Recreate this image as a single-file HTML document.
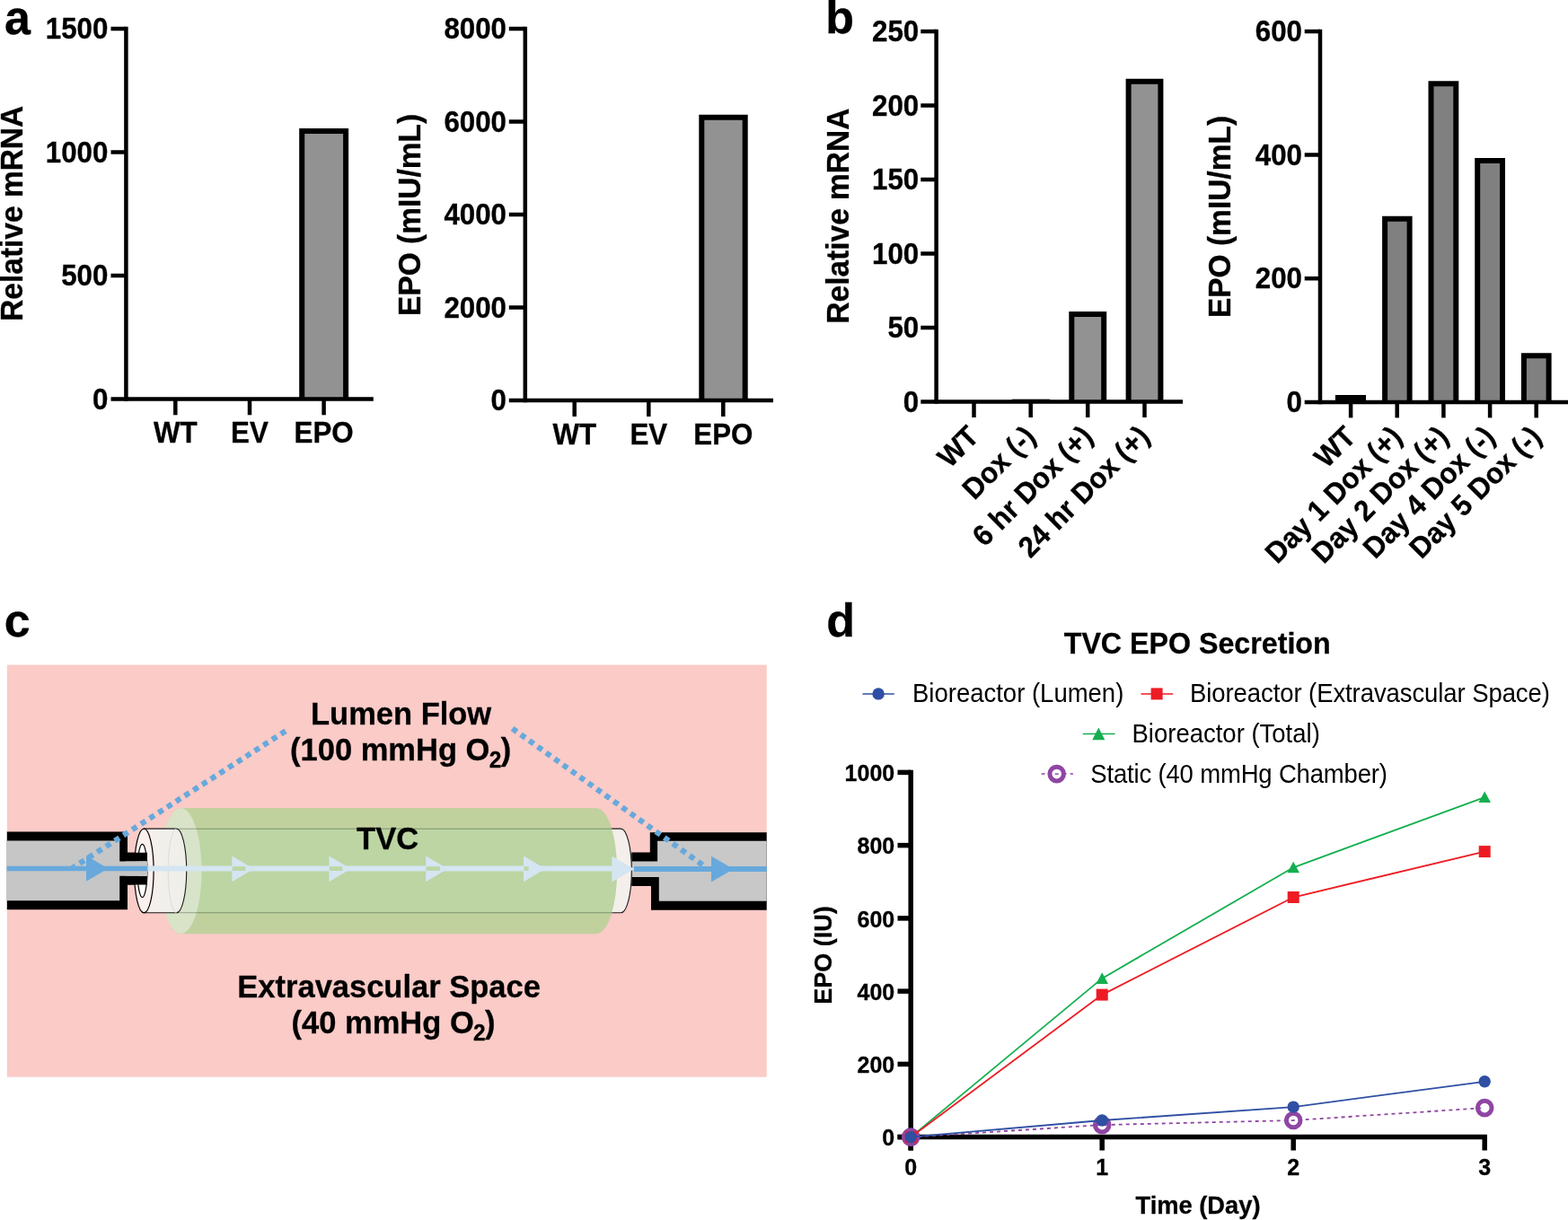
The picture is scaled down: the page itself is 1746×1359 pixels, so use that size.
<!DOCTYPE html>
<html lang="en"><head><meta charset="utf-8"><title>EPO secretion figure</title>
<style>
html,body{margin:0;padding:0;background:#fff;}
body{width:1746px;height:1359px;overflow:hidden;}
svg{display:block;font-family:"Liberation Sans", sans-serif;}
text{fill:#000;}
</style></head><body>
<svg width="1746" height="1359" viewBox="0 0 1746 1359">
<rect width="1746" height="1359" fill="#fff"/>

<text transform="translate(4.90,37.90) scale(1,1.04)" font-size="52" font-weight="bold" stroke="#000" stroke-width="0.3">a</text>
<text transform="translate(919.20,37.40) scale(1,1.0)" font-size="52" font-weight="bold" stroke="#000" stroke-width="0.3">b</text>
<text transform="translate(4.70,709.00) scale(1,1.0)" font-size="52" font-weight="bold" stroke="#000" stroke-width="0.3">c</text>
<text transform="translate(920.20,709.00) scale(1,1.0)" font-size="52" font-weight="bold" stroke="#000" stroke-width="0.3">d</text>
<g id="a1">
<path d="M336.2 444.6 V146.1 H385.1 V444.6" fill="#929292" stroke="#000" stroke-width="6"/>
<line x1="140.4" y1="29.8" x2="140.4" y2="446.9" stroke="#000" stroke-width="4.5"/>
<line x1="123.5" y1="444.6" x2="415.8" y2="444.6" stroke="#000" stroke-width="4.5"/>
<line x1="123.5" y1="32" x2="140.4" y2="32" stroke="#000" stroke-width="4.5"/>
<text transform="translate(120.40,43.21) scale(1,1.04)" font-size="31.3" font-weight="bold" stroke="#000" stroke-width="0.3" text-anchor="end">1500</text>
<line x1="123.5" y1="169.5" x2="140.4" y2="169.5" stroke="#000" stroke-width="4.5"/>
<text transform="translate(120.40,180.71) scale(1,1.04)" font-size="31.3" font-weight="bold" stroke="#000" stroke-width="0.3" text-anchor="end">1000</text>
<line x1="123.5" y1="307" x2="140.4" y2="307" stroke="#000" stroke-width="4.5"/>
<text transform="translate(120.40,318.21) scale(1,1.04)" font-size="31.3" font-weight="bold" stroke="#000" stroke-width="0.3" text-anchor="end">500</text>
<text transform="translate(120.40,455.81) scale(1,1.04)" font-size="31.3" font-weight="bold" stroke="#000" stroke-width="0.3" text-anchor="end">0</text>
<line x1="195.3" y1="444.6" x2="195.3" y2="462.3" stroke="#000" stroke-width="4.5"/>
<text transform="translate(195.30,493.20) scale(1,1.04)" font-size="31.3" font-weight="bold" stroke="#000" stroke-width="0.3" text-anchor="middle">WT</text>
<line x1="278" y1="444.6" x2="278" y2="462.3" stroke="#000" stroke-width="4.5"/>
<text transform="translate(278.00,493.20) scale(1,1.04)" font-size="31.3" font-weight="bold" stroke="#000" stroke-width="0.3" text-anchor="middle">EV</text>
<line x1="360.6" y1="444.6" x2="360.6" y2="462.3" stroke="#000" stroke-width="4.5"/>
<text transform="translate(360.60,493.20) scale(1,1.04)" font-size="31.3" font-weight="bold" stroke="#000" stroke-width="0.3" text-anchor="middle">EPO</text>
<text transform="translate(25.40,237.80) rotate(-90) scale(1,1.04)" font-size="33.5" font-weight="bold" stroke="#000" stroke-width="0.3" text-anchor="middle">Relative mRNA</text>
</g>
<g id="a2">
<path d="M781.3 446 V130.8 H829.7 V446" fill="#929292" stroke="#000" stroke-width="6"/>
<line x1="584.8" y1="29.8" x2="584.8" y2="448.2" stroke="#000" stroke-width="4.5"/>
<line x1="566.8" y1="446" x2="861" y2="446" stroke="#000" stroke-width="4.5"/>
<line x1="566.8" y1="32" x2="584.8" y2="32" stroke="#000" stroke-width="4.5"/>
<text transform="translate(564.00,43.21) scale(1,1.04)" font-size="31.3" font-weight="bold" stroke="#000" stroke-width="0.3" text-anchor="end">8000</text>
<line x1="566.8" y1="135.5" x2="584.8" y2="135.5" stroke="#000" stroke-width="4.5"/>
<text transform="translate(564.00,146.71) scale(1,1.04)" font-size="31.3" font-weight="bold" stroke="#000" stroke-width="0.3" text-anchor="end">6000</text>
<line x1="566.8" y1="239" x2="584.8" y2="239" stroke="#000" stroke-width="4.5"/>
<text transform="translate(564.00,250.21) scale(1,1.04)" font-size="31.3" font-weight="bold" stroke="#000" stroke-width="0.3" text-anchor="end">4000</text>
<line x1="566.8" y1="342.5" x2="584.8" y2="342.5" stroke="#000" stroke-width="4.5"/>
<text transform="translate(564.00,353.71) scale(1,1.04)" font-size="31.3" font-weight="bold" stroke="#000" stroke-width="0.3" text-anchor="end">2000</text>
<text transform="translate(564.00,457.21) scale(1,1.04)" font-size="31.3" font-weight="bold" stroke="#000" stroke-width="0.3" text-anchor="end">0</text>
<line x1="639.7" y1="446" x2="639.7" y2="464" stroke="#000" stroke-width="4.5"/>
<text transform="translate(639.70,494.50) scale(1,1.04)" font-size="31.3" font-weight="bold" stroke="#000" stroke-width="0.3" text-anchor="middle">WT</text>
<line x1="722.3" y1="446" x2="722.3" y2="464" stroke="#000" stroke-width="4.5"/>
<text transform="translate(722.30,494.50) scale(1,1.04)" font-size="31.3" font-weight="bold" stroke="#000" stroke-width="0.3" text-anchor="middle">EV</text>
<line x1="805.3" y1="446" x2="805.3" y2="464" stroke="#000" stroke-width="4.5"/>
<text transform="translate(805.30,494.50) scale(1,1.04)" font-size="31.3" font-weight="bold" stroke="#000" stroke-width="0.3" text-anchor="middle">EPO</text>
<text transform="translate(468.20,239.40) rotate(-90) scale(1,1.04)" font-size="33.5" font-weight="bold" stroke="#000" stroke-width="0.3" text-anchor="middle">EPO (mIU/mL)</text>
</g>
<g id="b1">
<rect x="1126.8" y="444.7" width="42.4" height="2.8" fill="#000"/>
<path d="M1193.3 447.5 V350.0 H1229.2 V447.5" fill="#929292" stroke="#000" stroke-width="6"/>
<path d="M1256.6 447.5 V90.7 H1292.4 V447.5" fill="#929292" stroke="#000" stroke-width="6"/>
<line x1="1042.6" y1="32.8" x2="1042.6" y2="449.8" stroke="#000" stroke-width="4.5"/>
<line x1="1025.3" y1="447.5" x2="1317.1" y2="447.5" stroke="#000" stroke-width="4.5"/>
<line x1="1025.3" y1="35" x2="1042.6" y2="35" stroke="#000" stroke-width="4.5"/>
<text transform="translate(1023.20,46.21) scale(1,1.04)" font-size="31.3" font-weight="bold" stroke="#000" stroke-width="0.3" text-anchor="end">250</text>
<line x1="1025.3" y1="117.5" x2="1042.6" y2="117.5" stroke="#000" stroke-width="4.5"/>
<text transform="translate(1023.20,128.71) scale(1,1.04)" font-size="31.3" font-weight="bold" stroke="#000" stroke-width="0.3" text-anchor="end">200</text>
<line x1="1025.3" y1="200" x2="1042.6" y2="200" stroke="#000" stroke-width="4.5"/>
<text transform="translate(1023.20,211.21) scale(1,1.04)" font-size="31.3" font-weight="bold" stroke="#000" stroke-width="0.3" text-anchor="end">150</text>
<line x1="1025.3" y1="282.5" x2="1042.6" y2="282.5" stroke="#000" stroke-width="4.5"/>
<text transform="translate(1023.20,293.71) scale(1,1.04)" font-size="31.3" font-weight="bold" stroke="#000" stroke-width="0.3" text-anchor="end">100</text>
<line x1="1025.3" y1="365" x2="1042.6" y2="365" stroke="#000" stroke-width="4.5"/>
<text transform="translate(1023.20,376.21) scale(1,1.04)" font-size="31.3" font-weight="bold" stroke="#000" stroke-width="0.3" text-anchor="end">50</text>
<text transform="translate(1023.20,458.71) scale(1,1.04)" font-size="31.3" font-weight="bold" stroke="#000" stroke-width="0.3" text-anchor="end">0</text>
<line x1="1084.5" y1="447.5" x2="1084.5" y2="465" stroke="#000" stroke-width="4.5"/>
<text transform="translate(1091.80,488.00) rotate(-45) scale(1,1.04)" font-size="31.3" font-weight="bold" stroke="#000" stroke-width="0.3" text-anchor="end">WT</text>
<line x1="1147.7" y1="447.5" x2="1147.7" y2="465" stroke="#000" stroke-width="4.5"/>
<text transform="translate(1155.00,488.00) rotate(-45) scale(1,1.04)" font-size="31.3" font-weight="bold" stroke="#000" stroke-width="0.3" text-anchor="end">Dox (-)</text>
<line x1="1211.2" y1="447.5" x2="1211.2" y2="465" stroke="#000" stroke-width="4.5"/>
<text transform="translate(1218.50,488.00) rotate(-45) scale(1,1.04)" font-size="31.3" font-weight="bold" stroke="#000" stroke-width="0.3" text-anchor="end">6 hr Dox (+)</text>
<line x1="1274.5" y1="447.5" x2="1274.5" y2="465" stroke="#000" stroke-width="4.5"/>
<text transform="translate(1281.80,488.00) rotate(-45) scale(1,1.04)" font-size="31.3" font-weight="bold" stroke="#000" stroke-width="0.3" text-anchor="end">24 hr Dox (+)</text>
<text transform="translate(944.50,240.60) rotate(-90) scale(1,1.04)" font-size="33.5" font-weight="bold" stroke="#000" stroke-width="0.3" text-anchor="middle">Relative mRNA</text>
</g>
<g id="b2">
<path d="M1489.9 448 V443.0 H1518.0 V448" fill="#808080" stroke="#000" stroke-width="6"/>
<path d="M1542.1 448 V243.7 H1569.6 V448" fill="#808080" stroke="#000" stroke-width="6"/>
<path d="M1593.5 448 V93.2 H1621.3 V448" fill="#808080" stroke="#000" stroke-width="6"/>
<path d="M1645.2 448 V178.9 H1673.0 V448" fill="#808080" stroke="#000" stroke-width="6"/>
<path d="M1696.9 448 V396.3 H1724.6 V448" fill="#808080" stroke="#000" stroke-width="6"/>
<line x1="1470" y1="32.8" x2="1470" y2="450.2" stroke="#000" stroke-width="4.5"/>
<line x1="1452.7" y1="448" x2="1746" y2="448" stroke="#000" stroke-width="4.5"/>
<line x1="1452.7" y1="35" x2="1470" y2="35" stroke="#000" stroke-width="4.5"/>
<text transform="translate(1450.00,46.21) scale(1,1.04)" font-size="31.3" font-weight="bold" stroke="#000" stroke-width="0.3" text-anchor="end">600</text>
<line x1="1452.7" y1="172.5" x2="1470" y2="172.5" stroke="#000" stroke-width="4.5"/>
<text transform="translate(1450.00,183.71) scale(1,1.04)" font-size="31.3" font-weight="bold" stroke="#000" stroke-width="0.3" text-anchor="end">400</text>
<line x1="1452.7" y1="310.2" x2="1470" y2="310.2" stroke="#000" stroke-width="4.5"/>
<text transform="translate(1450.00,321.41) scale(1,1.04)" font-size="31.3" font-weight="bold" stroke="#000" stroke-width="0.3" text-anchor="end">200</text>
<text transform="translate(1450.00,459.21) scale(1,1.04)" font-size="31.3" font-weight="bold" stroke="#000" stroke-width="0.3" text-anchor="end">0</text>
<line x1="1504.1" y1="448" x2="1504.1" y2="465.4" stroke="#000" stroke-width="4.5"/>
<text transform="translate(1511.40,488.40) rotate(-45) scale(1,1.04)" font-size="31.3" font-weight="bold" stroke="#000" stroke-width="0.3" text-anchor="end">WT</text>
<line x1="1555.7" y1="448" x2="1555.7" y2="465.4" stroke="#000" stroke-width="4.5"/>
<text transform="translate(1563.00,488.40) rotate(-45) scale(1,1.04)" font-size="31.3" font-weight="bold" stroke="#000" stroke-width="0.3" text-anchor="end">Day 1 Dox (+)</text>
<line x1="1607.4" y1="448" x2="1607.4" y2="465.4" stroke="#000" stroke-width="4.5"/>
<text transform="translate(1614.70,488.40) rotate(-45) scale(1,1.04)" font-size="31.3" font-weight="bold" stroke="#000" stroke-width="0.3" text-anchor="end">Day 2 Dox (+)</text>
<line x1="1659.1" y1="448" x2="1659.1" y2="465.4" stroke="#000" stroke-width="4.5"/>
<text transform="translate(1666.40,488.40) rotate(-45) scale(1,1.04)" font-size="31.3" font-weight="bold" stroke="#000" stroke-width="0.3" text-anchor="end">Day 4 Dox (-)</text>
<line x1="1710.7" y1="448" x2="1710.7" y2="465.4" stroke="#000" stroke-width="4.5"/>
<text transform="translate(1718.00,488.40) rotate(-45) scale(1,1.04)" font-size="31.3" font-weight="bold" stroke="#000" stroke-width="0.3" text-anchor="end">Day 5 Dox (-)</text>
<text transform="translate(1369.80,241.50) rotate(-90) scale(1,1.04)" font-size="33.5" font-weight="bold" stroke="#000" stroke-width="0.3" text-anchor="middle">EPO (mIU/mL)</text>
</g>
<g id="c">
<rect x="7.8" y="740.6" width="845.9" height="459.1" fill="#FACBC7"/>
<path d="M7.8 926.5 H142 V949.8 H164 V985.5 H142 V1013.2 H7.8 Z" fill="#000"/>
<path d="M7.8 936.5 H133.2 V959.4 H164 V975.8 H133.2 V1003.2 H7.8 Z" fill="#C6C6C6"/>
<path d="M853.7 927.2 H723.8 V949.6 H703.3 V987 H725 V1013.7 H853.7 Z" fill="#000"/>
<path d="M853.7 936.8 H732.1 V959.6 H703.3 V977.1 H733.8 V1003.7 H853.7 Z" fill="#C8C8C8"/>
<defs><linearGradient id="wg" x1="0" x2="1" y1="0" y2="0"><stop offset="0" stop-color="#F9EFEC"/><stop offset="0.5" stop-color="#F1EFEB"/><stop offset="1" stop-color="#EEEFEA"/></linearGradient></defs>
<path d="M196.5 923.1 H691.4 A11.9 46.85 0 0 1 691.4 1016.8 H196.5 Z" fill="#F5EFEC" stroke="#1a1a1a" stroke-width="1.1"/>
<path d="M201.3 900.2 H663.9 A23.3 70 0 0 1 663.9 1040.2 H201.3 A23.3 70 0 0 1 201.3 900.2 Z" fill="#B4D299" fill-opacity="0.88"/>
<clipPath id="gc"><path d="M201.3 900.2 H663.9 A23.3 70 0 0 1 663.9 1040.2 H201.3 Z"/></clipPath>
<g clip-path="url(#gc)"><rect x="201.3" y="900.2" width="490" height="22.9" fill="#C9D0A0" fill-opacity="0.3"/><rect x="201.3" y="1016.8" width="490" height="23.4" fill="#C9D0A0" fill-opacity="0.3"/></g>
<ellipse cx="201.3" cy="970.2" rx="23.3" ry="70" fill="#E9EEE3" fill-opacity="0.6"/>
<line x1="197" y1="923.3" x2="683" y2="923.3" stroke="#6F8468" stroke-width="1" stroke-opacity="0.6"/>
<line x1="197" y1="1016.7" x2="683" y2="1016.7" stroke="#6F8468" stroke-width="1" stroke-opacity="0.6"/>
<path d="M160.3 923.1 H196.5 A11.2 46.85 0 0 1 196.5 1016.8 H160.3 Z" fill="url(#wg)" stroke="#1a1a1a" stroke-width="1.1"/>
<path d="M196.5 923.1 A9.3 46.85 0 0 0 196.5 1016.8" fill="none" stroke="#D6D6D2" stroke-width="0.8"/>
<ellipse cx="160.3" cy="970" rx="10.8" ry="46.85" fill="#FAF0EE" stroke="#000" stroke-width="1.2"/>
<ellipse cx="158.5" cy="970" rx="5.4" ry="29.6" fill="#fff" stroke="#000" stroke-width="1.2"/>
<path d="M140 949.8 H164 V959.4 H140 Z M140 975.8 H164 V985.5 H140 Z" fill="#000"/>
<rect x="140" y="959.4" width="24" height="16.4" fill="#C6C6C6"/>
<line x1="164" y1="967.6" x2="700" y2="967.6" stroke="#D5E5F2" stroke-width="6"/>
<path d="M258.3 953.5 L282.6 967.8 L258.3 982.2 Z" fill="#D5E5F2"/>
<rect x="258.7" y="965.2" width="14.6" height="4.8" fill="#BDD8A5"/>
<path d="M366.4 953.5 L390.7 967.8 L366.4 982.2 Z" fill="#D5E5F2"/>
<rect x="366.79999999999995" y="965.2" width="14.6" height="4.8" fill="#BDD8A5"/>
<path d="M474.2 953.5 L498.5 967.8 L474.2 982.2 Z" fill="#D5E5F2"/>
<rect x="474.59999999999997" y="965.2" width="15.2" height="4.8" fill="#BDD8A5"/>
<path d="M583 953.5 L607.3 967.8 L583 982.2 Z" fill="#D5E5F2"/>
<rect x="583.4" y="965.2" width="5.2" height="4.8" fill="#BDD8A5"/>
<path d="M681.4 953.8 L706.3 968 L681.4 982.5 Z" fill="#D5E5F2"/>
<line x1="7.8" y1="967.5" x2="164.5" y2="967.5" stroke="#67A9DC" stroke-width="5.6"/>
<path d="M96 953.1 L120.4 967.5 L96 981.8 Z" fill="#67A9DC"/>
<line x1="706" y1="967.9" x2="853.7" y2="967.9" stroke="#67A9DC" stroke-width="6"/>
<path d="M792 953.8 L816.9 968 L792 982.5 Z" fill="#67A9DC"/>
<line x1="318.0" y1="814.35" x2="80.0" y2="967.3" stroke="#67A9DC" stroke-width="6.2" stroke-dasharray="6.2 5.38"/>
<line x1="570.5" y1="811.5" x2="786.0" y2="966.1" stroke="#67A9DC" stroke-width="6.2" stroke-dasharray="6.2 5.37"/>
<text transform="translate(446.60,807.10) scale(1,1.04)" font-size="34.5" font-weight="bold" stroke="#000" stroke-width="0.3" text-anchor="middle">Lumen Flow</text>
<text transform="translate(446.10,847.00) scale(1,1.04)" font-size="34.5" font-weight="bold" stroke="#000" stroke-width="0.3" text-anchor="middle">(100 mmHg O<tspan font-size="24.5" dy="7.6" dx="-0.6">2</tspan><tspan dy="-7.6" dx="-0.8">)</tspan></text>
<text transform="translate(431.60,946.00) scale(1,1.04)" font-size="34.5" font-weight="bold" stroke="#000" stroke-width="0.3" text-anchor="middle">TVC</text>
<text transform="translate(433.10,1111.20) scale(1,1.04)" font-size="34.5" font-weight="bold" stroke="#000" stroke-width="0.3" text-anchor="middle">Extravascular Space</text>
<text transform="translate(438.00,1151.00) scale(1,1.04)" font-size="34.5" font-weight="bold" stroke="#000" stroke-width="0.3" text-anchor="middle">(40 mmHg O<tspan font-size="24.5" dy="7.6" dx="-0.6">2</tspan><tspan dy="-7.6" dx="-0.8">)</tspan></text>
</g>
<g id="d">
<text transform="translate(1333.20,728.00) scale(1,1.04)" font-size="32.2" font-weight="bold" stroke="#000" stroke-width="0.3" text-anchor="middle">TVC EPO Secretion</text>
<line x1="960.5" y1="772.9" x2="995.8" y2="772.9" stroke="#2E4FA3" stroke-width="1.5"/><circle cx="978.1" cy="772.9" r="6.7" fill="#2E4FA3"/>
<text transform="translate(1016.00,782.20) scale(1,1.04)" font-size="27.5">Bioreactor (Lumen)</text>
<line x1="1270.5" y1="772.9" x2="1306.2" y2="772.9" stroke="#ED1C24" stroke-width="1.5"/><rect x="1281.6" y="766.4" width="13" height="13" fill="#ED1C24"/>
<text transform="translate(1325.00,782.20) scale(1,1.04)" font-size="27.5" letter-spacing="-0.08">Bioreactor (Extravascular Space)</text>
<line x1="1205.7" y1="817.5" x2="1241.5" y2="817.5" stroke="#13AF4F" stroke-width="1.5"/><path d="M1223.3 810.5 L1230.3 824.3 L1216.3 824.3 Z" fill="#13AF4F"/>
<text transform="translate(1260.50,826.80) scale(1,1.04)" font-size="27.5">Bioreactor (Total)</text>
<line x1="1159.6" y1="862.1" x2="1194.9" y2="862.1" stroke="#8F46A3" stroke-width="1.5" stroke-dasharray="4 4"/><circle cx="1176.7" cy="862.1" r="7.8" fill="#fff" stroke="#8F46A3" stroke-width="5"/>
<line x1="1174.7" y1="862.1" x2="1178.7" y2="862.1" stroke="#8F46A3" stroke-width="1.5"/>
<text transform="translate(1214.30,871.70) scale(1,1.04)" font-size="27.5" letter-spacing="-0.17">Static (40 mmHg Chamber)</text>
<line x1="1014.2" y1="857.65" x2="1014.2" y2="1281.5" stroke="#000" stroke-width="5.5"/>
<line x1="999.5" y1="1266.6" x2="1655.95" y2="1266.6" stroke="#000" stroke-width="5.5"/>
<line x1="999.5" y1="860.4" x2="1014.2" y2="860.4" stroke="#000" stroke-width="5.5"/>
<text transform="translate(996.20,870.00) scale(1,1.04)" font-size="25" font-weight="bold" stroke="#000" stroke-width="0.3" text-anchor="end">1000</text>
<line x1="999.5" y1="941.65" x2="1014.2" y2="941.65" stroke="#000" stroke-width="5.5"/>
<text transform="translate(996.20,951.25) scale(1,1.04)" font-size="25" font-weight="bold" stroke="#000" stroke-width="0.3" text-anchor="end">800</text>
<line x1="999.5" y1="1022.9" x2="1014.2" y2="1022.9" stroke="#000" stroke-width="5.5"/>
<text transform="translate(996.20,1032.50) scale(1,1.04)" font-size="25" font-weight="bold" stroke="#000" stroke-width="0.3" text-anchor="end">600</text>
<line x1="999.5" y1="1104.15" x2="1014.2" y2="1104.15" stroke="#000" stroke-width="5.5"/>
<text transform="translate(996.20,1113.75) scale(1,1.04)" font-size="25" font-weight="bold" stroke="#000" stroke-width="0.3" text-anchor="end">400</text>
<line x1="999.5" y1="1185.4" x2="1014.2" y2="1185.4" stroke="#000" stroke-width="5.5"/>
<text transform="translate(996.20,1195.00) scale(1,1.04)" font-size="25" font-weight="bold" stroke="#000" stroke-width="0.3" text-anchor="end">200</text>
<line x1="999.5" y1="1266.6" x2="1014.2" y2="1266.6" stroke="#000" stroke-width="5.5"/>
<text transform="translate(996.20,1276.20) scale(1,1.04)" font-size="25" font-weight="bold" stroke="#000" stroke-width="0.3" text-anchor="end">0</text>
<line x1="1014.2" y1="1266.6" x2="1014.2" y2="1281.5" stroke="#000" stroke-width="5.5"/>
<text transform="translate(1014.20,1309.20) scale(1,1.04)" font-size="25" font-weight="bold" stroke="#000" stroke-width="0.3" text-anchor="middle">0</text>
<line x1="1227.2" y1="1266.6" x2="1227.2" y2="1281.5" stroke="#000" stroke-width="5.5"/>
<text transform="translate(1227.20,1309.20) scale(1,1.04)" font-size="25" font-weight="bold" stroke="#000" stroke-width="0.3" text-anchor="middle">1</text>
<line x1="1440.2" y1="1266.6" x2="1440.2" y2="1281.5" stroke="#000" stroke-width="5.5"/>
<text transform="translate(1440.20,1309.20) scale(1,1.04)" font-size="25" font-weight="bold" stroke="#000" stroke-width="0.3" text-anchor="middle">2</text>
<line x1="1653.2" y1="1266.6" x2="1653.2" y2="1281.5" stroke="#000" stroke-width="5.5"/>
<text transform="translate(1653.20,1309.20) scale(1,1.04)" font-size="25" font-weight="bold" stroke="#000" stroke-width="0.3" text-anchor="middle">3</text>
<text transform="translate(925.70,1064.10) rotate(-90) scale(1,1.04)" font-size="27" font-weight="bold" stroke="#000" stroke-width="0.3" text-anchor="middle">EPO (IU)</text>
<text transform="translate(1334.00,1352.00) scale(1,1.04)" font-size="27.3" font-weight="bold" stroke="#000" stroke-width="0.3" text-anchor="middle">Time (Day)</text>
<polyline points="1014.2,1266.6 1227.2,1089.9 1440.2,966.3 1653.2,888.1" fill="none" stroke="#13AF4F" stroke-width="1.8"/>
<path d="M1014.2 1260.0 L1021.0 1272.6 L1007.4 1272.6 Z" fill="#13AF4F"/>
<path d="M1227.2 1083.3 L1234.0 1095.9 L1220.4 1095.9 Z" fill="#13AF4F"/>
<path d="M1440.2 959.7 L1447.0 972.3 L1433.4 972.3 Z" fill="#13AF4F"/>
<path d="M1653.2 881.5 L1660.0 894.1 L1646.4 894.1 Z" fill="#13AF4F"/>
<circle cx="1014.2" cy="1266.6" r="7.8" fill="#fff" stroke="#8F46A3" stroke-width="5"/>
<circle cx="1227.2" cy="1253.1" r="7.8" fill="#fff" stroke="#8F46A3" stroke-width="5"/>
<circle cx="1440.2" cy="1248.0" r="7.8" fill="#fff" stroke="#8F46A3" stroke-width="5"/>
<circle cx="1653.2" cy="1234.1" r="7.8" fill="#fff" stroke="#8F46A3" stroke-width="5"/>
<polyline points="1014.2,1266.6 1227.2,1253.1 1440.2,1248.0 1653.2,1234.1" fill="none" stroke="#8F46A3" stroke-width="1.8" stroke-dasharray="4 4"/>
<polyline points="1014.2,1266.6 1227.2,1108.1 1440.2,999.5 1653.2,948.6" fill="none" stroke="#ED1C24" stroke-width="1.8"/>
<rect x="1007.7" y="1260.1" width="13" height="13" fill="#ED1C24"/>
<rect x="1220.7" y="1101.6" width="13" height="13" fill="#ED1C24"/>
<rect x="1433.7" y="993.0" width="13" height="13" fill="#ED1C24"/>
<rect x="1646.7" y="942.1" width="13" height="13" fill="#ED1C24"/>
<polyline points="1014.2,1266.6 1227.2,1248.0 1440.2,1233.1 1653.2,1204.8" fill="none" stroke="#2E4FA3" stroke-width="1.8"/>
<circle cx="1014.2" cy="1266.6" r="6.7" fill="#2E4FA3"/>
<circle cx="1227.2" cy="1248.0" r="6.7" fill="#2E4FA3"/>
<circle cx="1440.2" cy="1233.1" r="6.7" fill="#2E4FA3"/>
<circle cx="1653.2" cy="1204.8" r="6.7" fill="#2E4FA3"/>
</g>
</svg>
</body></html>
